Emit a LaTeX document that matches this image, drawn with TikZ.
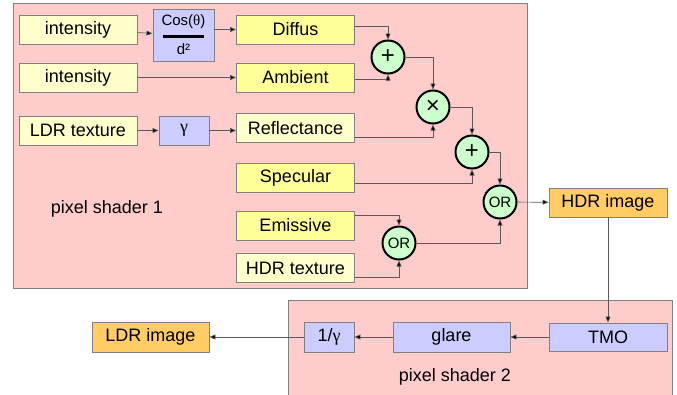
\documentclass[tikz,border=0pt]{standalone}
\usepackage{fontspec}
\setmainfont{Liberation Sans}
\newfontfamily\greekfont{Liberation Serif}
\usetikzlibrary{arrows.meta}

\definecolor{shaderpink}{HTML}{FFCCCC}
\definecolor{paleyellow}{HTML}{FFFFCC}
\definecolor{brightyellow}{HTML}{FFFF99}
\definecolor{lavender}{HTML}{CCCCFF}
\definecolor{imgorange}{HTML}{FFCC66}
\definecolor{opgreen}{HTML}{CCFFCC}

\tikzset{
  panel/.style={draw=gray, line width=0.9pt, fill=shaderpink},
  box/.style={draw=gray, line width=0.9pt, inner sep=0pt, minimum width=118pt,
    minimum height=29pt, font=\fontsize{18}{20}\selectfont},
  inbox/.style={box, fill=paleyellow},
  termbox/.style={box, fill=brightyellow},
  funcbox/.style={box, fill=lavender},
  imgbox/.style={box, fill=imgorange},
  op/.style={circle, draw=black, line width=2pt, fill=opgreen, inner sep=0pt,
    minimum size=33pt, font=\fontsize{24}{24}\selectfont},
  wire/.style={draw=black!65, line width=0.7pt,
    -{Triangle[length=6pt,width=5pt,fill=black]}}
}

\begin{document}
\begin{tikzpicture}[x=1pt,y=-1pt]
  \useasboundingbox (0,0) rectangle (677,394);

  % shader panels
  \draw[panel] (13,3) rectangle (527,288);
  \draw[panel] (288,300) rectangle (672,404);
  \node[font=\fontsize{18}{20}\selectfont] (shadera) at (107,209) {pixel shader 1};
  \node[font=\fontsize{18}{20}\selectfont] (shaderb) at (455,377) {pixel shader 2};

  % inputs
  \node[inbox] (inta) at (78,29.5) {intensity};
  \node[inbox] (intb) at (78,77.5) {intensity};
  \node[inbox] (ldrtex) at (78,130.5) {LDR texture};
  \node[funcbox, minimum width=61pt, minimum height=52pt, align=center,
    font=\fontsize{15}{16}\selectfont] (cosd) at (183.5,35)
    {Cos({\greekfont θ})\\[-4pt]\rule{41pt}{2.5pt}\\[1pt]d²};
  \node[funcbox, minimum width=50pt, font=\fontsize{18}{20}\selectfont\greekfont]
    (gam) at (184,130.5) {γ};

  % terms
  \node[termbox] (diffus) at (295.5,29.5) {Diffus};
  \node[termbox] (ambient) at (295.5,77.5) {Ambient};
  \node[inbox] (refl) at (295.5,128) {Reflectance};
  \node[termbox] (spec) at (295.5,178) {Specular};
  \node[termbox] (emis) at (295.5,225.5) {Emissive};
  \node[inbox] (hdrtex) at (295.5,268) {HDR texture};

  % operators
  \node[op] (plusa) at (388,57) {+};
  \node[op] (times) at (433,107) {×};
  \node[op] (plusb) at (472,152) {+};
  \node[op, font=\fontsize{15}{16}\selectfont] (ora) at (500,202) {OR};
  \node[op, font=\fontsize{15}{16}\selectfont] (orb) at (399,243) {OR};

  % outputs
  \node[imgbox] (hdrimg) at (608,202.5) {HDR image};
  \node[funcbox, minimum height=28pt] (tmo) at (608,337) {TMO};
  \node[funcbox, minimum width=117pt, minimum height=30pt] (glare) at (451.5,337) {glare};
  \node[funcbox, minimum width=50pt, minimum height=30pt] (invgam) at (329,337)
    {1/{\greekfont γ}};
  \node[imgbox, minimum width=117pt, minimum height=30pt] (ldrimg) at (150.5,337) {LDR image};

  % connections
  \draw[wire] (inta) -- (cosd);
  \draw[wire] (cosd.east |- diffus.west) -- (diffus);
  \draw[wire] (intb) -- (ambient);
  \draw[wire] (ldrtex) -- (gam);
  \draw[wire] (gam) -- (refl.west |- gam.east);
  \draw[wire] ([yshift=3pt]diffus.east) -| (plusa.north);
  \draw[wire] ([yshift=-2pt]ambient.east) -| (plusa.south);
  \draw[wire] (plusa.east) -| (times.north);
  \draw[wire] ([yshift=-9pt]refl.east) -| (times.south);
  \draw[wire] (times.east) -| (plusb.north);
  \draw[wire] ([yshift=-5pt]spec.east) -| (plusb.south);
  \draw[wire] (plusb.east) -| (ora.north);
  \draw[wire] ([yshift=10pt]emis.east) -| (orb.north);
  \draw[wire] ([yshift=-9pt]hdrtex.east) -| (orb.south);
  \draw[wire] (orb.east) -| (ora.south);
  \draw[wire] (ora) -- (hdrimg);
  \draw[wire] (hdrimg) -- (tmo);
  \draw[wire] (tmo) -- (glare);
  \draw[wire] (glare) -- (invgam);
  \draw[wire] (invgam) -- (ldrimg);
\end{tikzpicture}
\end{document}
